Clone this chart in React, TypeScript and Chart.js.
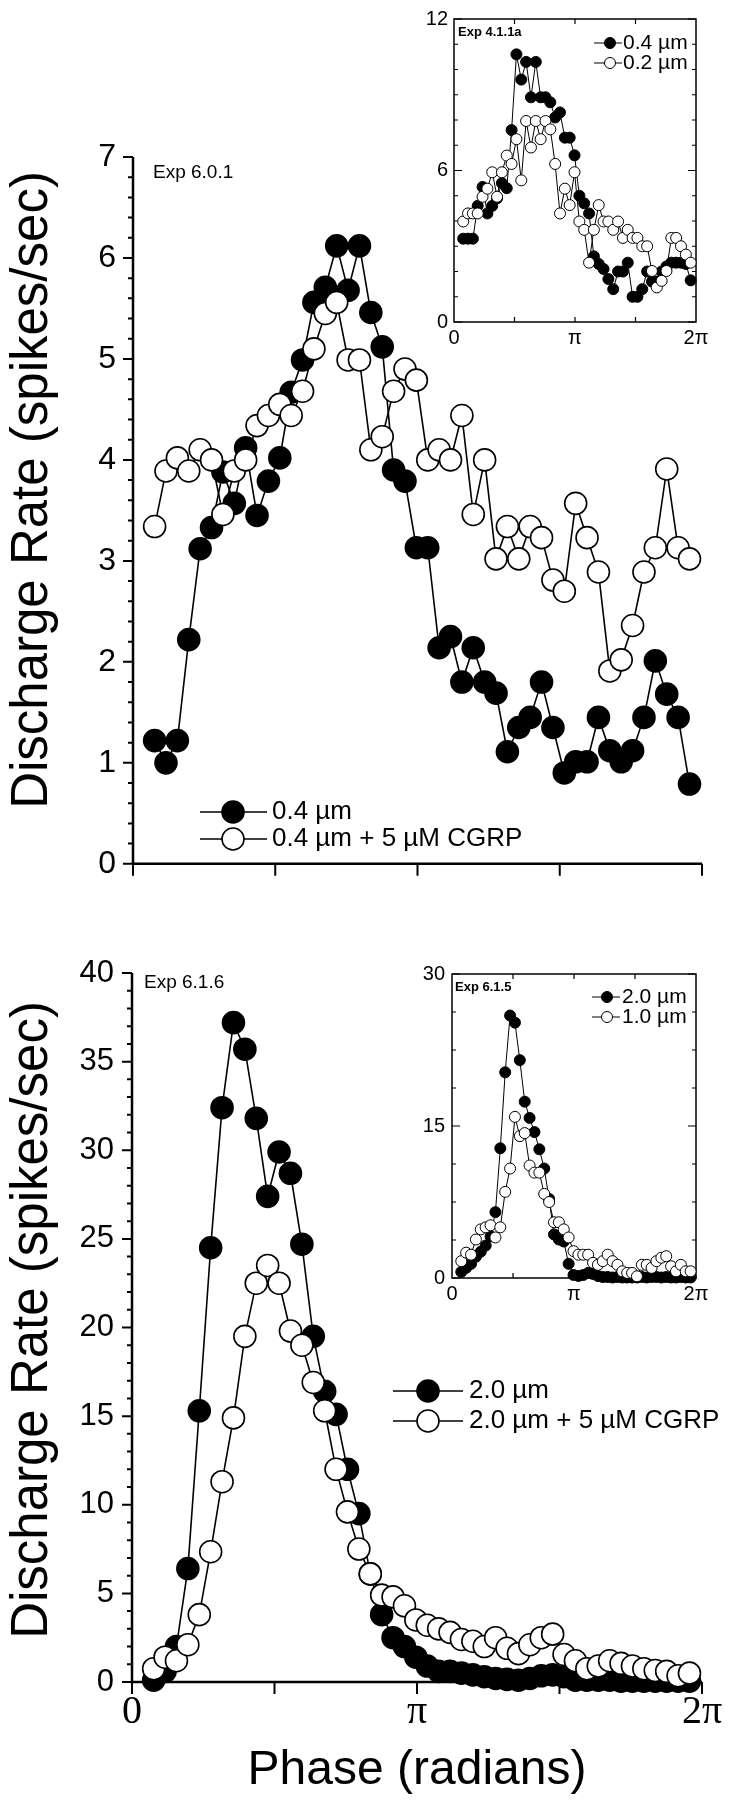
import React, { useEffect, useRef } from "react";
import { Chart, registerables } from "chart.js";

Chart.register(...registerables);

const SANS = "'Liberation Sans', Arial, Helvetica, sans-serif";
const SERIF = "'Liberation Serif', 'Times New Roman', serif";

// Phase of each bin centre, in units of π (0 .. 2π)
const PHASE_PI = [
  0.076, 0.116, 0.156, 0.196, 0.236, 0.276, 0.316, 0.356, 0.396, 0.436, 0.476, 0.516,
  0.556, 0.596, 0.636, 0.676, 0.716, 0.756, 0.796, 0.836, 0.876, 0.916, 0.956, 0.996,
  1.036, 1.076, 1.116, 1.156, 1.196, 1.236, 1.276, 1.316, 1.356, 1.396, 1.436, 1.476,
  1.516, 1.556, 1.596, 1.636, 1.676, 1.716, 1.756, 1.796, 1.836, 1.876, 1.916, 1.956,
];

const PI_TICK_LABELS: Record<string, string> = { "0": "0", "1": "π", "2": "2π" };

const Y_TITLE = "Discharge Rate (spikes/sec)";
const X_TITLE = "Phase (radians)";

// ---- Panel A (top): Exp 6.0.1 ----
const TOP_LABELS = ["0.4 µm", "0.4 µm + 5 µM CGRP"];
const TOP_CTRL = [
  1.22, 1.0, 1.22, 2.22, 3.12, 3.33, 3.88, 3.57, 4.12, 3.45, 3.79, 4.02,
  4.67, 4.99, 5.56, 5.71, 6.12, 5.68, 6.12, 5.46, 5.12, 3.9, 3.79, 3.13,
  3.13, 2.14, 2.25, 1.8, 2.14, 1.8, 1.69, 1.11, 1.35, 1.45, 1.8, 1.35,
  0.9, 1.01, 1.01, 1.45, 1.12, 1.01, 1.12, 1.45, 2.01, 1.68, 1.45, 0.79,
];
const TOP_CGRP = [
  3.34, 3.89, 4.02, 3.89, 4.1, 4.0, 3.46, 3.89, 4.0, 4.34, 4.44, 4.55,
  4.44, 4.68, 5.1, 5.45, 5.56, 4.99, 4.99, 4.1, 4.23, 4.68, 4.9, 4.79,
  4.0, 4.1, 4.0, 4.44, 3.46, 4.0, 3.02, 3.34, 3.02, 3.34, 3.23, 2.81,
  2.7, 3.57, 3.23, 2.89, 1.91, 2.02, 2.36, 2.89, 3.13, 3.91, 3.13, 3.02,
];

// ---- Inset A: Exp 4.1.1a ----
const TOP_INSET_LABELS = ["0.4 µm", "0.2 µm"];
const TOP_INSET_04 = [
  3.3, 3.3, 3.3, 4.6, 5.35, 4.3, 4.6, 4.9, 5.5, 5.3, 7.6, 10.6,
  9.6, 10.3, 8.9, 10.3, 8.9, 8.9, 8.7, 8.1, 8.3, 7.3, 7.3, 6.6,
  5.0, 4.7, 4.3, 2.6, 2.3, 2.1, 1.7, 1.3, 2.0, 2.0, 2.35, 1.0,
  1.0, 1.3, 2.0, 1.6, 1.6, 2.0, 2.2, 2.35, 2.35, 2.35, 2.3, 1.65,
];
const TOP_INSET_02 = [
  3.98, 4.3, 4.3, 4.3, 4.96, 5.28, 5.93, 4.96, 5.93, 6.59, 6.26, 7.24,
  5.61, 7.96, 6.91, 7.96, 7.24, 7.96, 7.63, 6.26, 4.3, 5.28, 4.63, 5.93,
  3.98, 3.65, 2.35, 3.65, 4.63, 3.98, 3.98, 3.65, 3.98, 3.33, 3.65, 3.33,
  3.33, 3.0, 3.0, 2.02, 1.37, 1.63, 2.02, 3.33, 3.33, 3.0, 2.67, 2.35,
];

// ---- Panel B (bottom): Exp 6.1.6 ----
const BOT_LABELS = ["2.0 µm", "2.0 µm + 5 µM CGRP"];
const BOT_CTRL = [
  0.1, 0.6, 2.0, 6.4, 15.3, 24.5, 32.4, 37.2, 35.7, 31.8, 27.4, 29.9,
  28.7, 24.7, 19.5, 16.4, 15.1, 12.0, 9.5, 6.1, 3.8, 2.5, 2.0, 1.4,
  0.9, 0.6, 0.6, 0.5, 0.4, 0.3, 0.2, 0.15, 0.1, 0.2, 0.35, 0.4,
  0.3, 0.1, 0.1, 0.1, 0.1, 0.05, 0.05, 0.05, 0.05, 0.05, 0.05, 0.05,
];
const BOT_CGRP = [
  0.75, 1.4, 1.2, 2.1, 3.8, 7.35, 11.3, 14.9, 19.5, 22.5, 23.5, 22.5,
  19.8, 19.0, 16.9, 15.3, 12.0, 9.6, 7.5, 6.1, 4.9, 4.8, 4.3, 3.5,
  3.2, 3.0, 2.8, 2.4, 2.3, 2.0, 2.5, 1.9, 1.6, 2.1, 2.5, 2.7,
  1.55, 1.2, 0.75, 0.9, 1.2, 1.05, 0.9, 0.75, 0.65, 0.6, 0.35, 0.5,
];

// ---- Inset B: Exp 6.1.5 ----
const BOT_INSET_LABELS = ["2.0 µm", "1.0 µm"];
const BOT_INSET_20 = [
  0.6, 1.0, 1.4, 2.1, 2.6, 3.2, 4.1, 6.5, 12.8, 20.3, 25.9, 25.2,
  21.5, 17.4, 15.8, 14.4, 12.7, 10.8, 7.8, 4.3, 3.8, 3.6, 1.4, 0.3,
  0.2, 0.3, 0.5, 0.4, 0.2, 0.1, 0.1, 0.05, 0.1, 0.05, 0.05, 0.05,
  0.05, 0.1, 0.05, 0.1, 0.1, 0.05, 0.1, 0.05, 0.05, 0.1, 0.05, 0.05,
];
const BOT_INSET_10 = [
  1.66, 2.5, 2.3, 3.8, 4.8, 5.0, 5.2, 4.0, 5.0, 8.5, 10.8, 15.9,
  14.0, 14.3, 11.1, 10.4, 10.4, 8.3, 7.5, 5.5, 5.5, 4.8, 4.0, 2.65,
  2.3, 2.3, 2.3, 1.5, 1.3, 1.66, 2.3, 1.66, 1.3, 0.66, 0.5, 0.5,
  0.17, 1.3, 1.3, 1.0, 1.66, 2.0, 2.15, 1.16, 0.66, 1.3, 0.66, 0.66,
];

type TextItem = {
  text: string; x: number; y: number; font: string;
  align?: CanvasTextAlign; rotate?: number;
};
type LegendItem = {
  x1: number; x2: number; cx: number; cy: number; r: number;
  filled: boolean; text: string; tx: number; font: string; lw: number; pb: number;
};
type Series = { label: string; values: number[]; filled: boolean };
type Spec = {
  canvasTop: number;
  area: { left: number; right: number; top: number; bottom: number };
  yMax: number; yLabelStep: number; yFont: string; yFontSize: number; yPad: number;
  xLabels: boolean; xFont: string; xFontSize: number; xPad: number;
  xTitle: boolean;
  box: boolean; inward: boolean; axisWidth: number; tickWidth: number;
  yStep: number; yMajor: number; yMajorLen: number; yMinorLen: number;
  xTicks: number[]; xTickLen: number;
  series: Series[];
  pointRadius: number; pointBorder: number; lineWidth: number;
  texts: TextItem[];
  legend: LegendItem[];
};

const W = 736;
const H = 900;

function makeDecor(s: Spec) {
  return {
    id: "decor",
    beforeDatasetsDraw(chart: any) {
      const { ctx, chartArea: a } = chart;
      const xs = chart.scales.x;
      const ys = chart.scales.y;
      ctx.save();
      ctx.strokeStyle = "#000";
      ctx.lineCap = "butt";
      ctx.lineWidth = s.axisWidth;
      ctx.beginPath();
      if (s.box) {
        ctx.rect(a.left, a.top, a.right - a.left, a.bottom - a.top);
      } else {
        ctx.moveTo(a.left, a.top);
        ctx.lineTo(a.left, a.bottom);
        ctx.lineTo(a.right, a.bottom);
      }
      ctx.stroke();
      ctx.lineWidth = s.tickWidth;
      ctx.beginPath();
      const n = Math.round((ys.max - ys.min) / s.yStep);
      const ratio = Math.round(s.yMajor / s.yStep);
      const dirY = s.inward ? 1 : -1;
      for (let i = 0; i <= n; i++) {
        const py = ys.getPixelForValue(ys.min + i * s.yStep);
        const len = i % ratio === 0 ? s.yMajorLen : s.yMinorLen;
        ctx.moveTo(a.left, py);
        ctx.lineTo(a.left + dirY * len, py);
        if (s.box) {
          ctx.moveTo(a.right, py);
          ctx.lineTo(a.right - len, py);
        }
      }
      const dirX = s.inward ? -1 : 1;
      for (const v of s.xTicks) {
        const px = xs.getPixelForValue(v);
        ctx.moveTo(px, a.bottom);
        ctx.lineTo(px, a.bottom + dirX * s.xTickLen);
        if (s.box) {
          ctx.moveTo(px, a.top);
          ctx.lineTo(px, a.top + s.xTickLen);
        }
      }
      ctx.stroke();
      ctx.restore();
    },
    afterDraw(chart: any) {
      const { ctx } = chart;
      ctx.save();
      ctx.fillStyle = "#000";
      ctx.strokeStyle = "#000";
      for (const t of s.texts) {
        ctx.save();
        ctx.translate(t.x, t.y);
        ctx.rotate(t.rotate || 0);
        ctx.font = t.font;
        ctx.textAlign = t.align || "left";
        ctx.textBaseline = "middle";
        ctx.fillText(t.text, 0, 0);
        ctx.restore();
      }
      for (const L of s.legend) {
        ctx.lineWidth = L.lw;
        ctx.beginPath();
        ctx.moveTo(L.x1, L.cy);
        ctx.lineTo(L.x2, L.cy);
        ctx.stroke();
        ctx.beginPath();
        ctx.arc(L.cx, L.cy, L.r, 0, Math.PI * 2);
        ctx.fillStyle = L.filled ? "#000" : "#fff";
        ctx.fill();
        ctx.lineWidth = L.pb;
        ctx.stroke();
        ctx.fillStyle = "#000";
        ctx.font = L.font;
        ctx.textAlign = "left";
        ctx.textBaseline = "middle";
        ctx.fillText(L.text, L.tx, L.cy);
      }
      ctx.restore();
    },
  };
}

function buildConfig(s: Spec): any {
  return {
    type: "line",
    data: {
      datasets: s.series.map((ser) => ({
        label: ser.label,
        data: PHASE_PI.map((x, i) => ({ x, y: ser.values[i] })),
        borderColor: "#000",
        borderWidth: s.lineWidth,
        pointRadius: s.pointRadius,
        pointBorderWidth: s.pointBorder,
        pointBackgroundColor: ser.filled ? "#000" : "#fff",
        pointBorderColor: "#000",
        pointStyle: "circle",
        tension: 0,
        fill: false,
        clip: false,
      })),
    },
    options: {
      responsive: false,
      maintainAspectRatio: false,
      animation: false,
      devicePixelRatio: 1,
      events: [],
      layout: {
        padding: { left: 0, top: s.area.top, right: W - s.area.right, bottom: 0 },
      },
      plugins: {
        legend: { display: false },
        tooltip: { enabled: false },
        title: { display: false },
      },
      scales: {
        x: {
          type: "linear",
          min: 0,
          max: 2,
          afterFit: (sc: any) => {
            sc.height = H - s.area.bottom;
          },
          grid: { display: false, drawTicks: false },
          border: { display: false },
          ticks: {
            display: s.xLabels,
            stepSize: 1,
            autoSkip: false,
            maxRotation: 0,
            color: "#000",
            padding: s.xPad,
            font: { family: s.xFont, size: s.xFontSize },
            callback: (v: number) => PI_TICK_LABELS[String(v)] ?? "",
          },
          title: {
            display: s.xTitle,
            text: X_TITLE,
            color: "#000",
            padding: { top: 0, bottom: 0 },
            font: { family: SANS, size: 48 },
          },
        },
        y: {
          type: "linear",
          min: 0,
          max: s.yMax,
          afterFit: (sc: any) => {
            sc.width = s.area.left;
          },
          grid: { display: false, drawTicks: false },
          border: { display: false },
          ticks: {
            stepSize: s.yLabelStep,
            color: "#000",
            padding: s.yPad,
            font: { family: s.yFont, size: s.yFontSize },
          },
        },
      },
    },
    plugins: [makeDecor(s)],
  };
}

function PhaseChart({ spec }: { spec: Spec }) {
  const ref = useRef<HTMLCanvasElement>(null);
  useEffect(() => {
    const chart = new Chart(ref.current as HTMLCanvasElement, buildConfig(spec));
    return () => chart.destroy();
  }, [spec]);
  return (
    <canvas
      ref={ref}
      width={W}
      height={H}
      style={{ position: "absolute", left: 0, top: spec.canvasTop, width: W, height: H }}
    />
  );
}

const MAIN_TOP: Spec = {
  canvasTop: 0,
  area: { left: 133, right: 702, top: 157, bottom: 869 },
  yMax: 7, yLabelStep: 1, yFont: SANS, yFontSize: 32, yPad: 17,
  xLabels: false, xFont: SANS, xFontSize: 12, xPad: 0, xTitle: false,
  box: false, inward: false, axisWidth: 2.5, tickWidth: 2,
  yStep: 0.2, yMajor: 1, yMajorLen: 10, yMinorLen: 5,
  xTicks: [0, 0.5, 1, 1.5, 2], xTickLen: 12,
  series: [
    { label: TOP_LABELS[1], values: TOP_CGRP, filled: false },
    { label: TOP_LABELS[0], values: TOP_CTRL, filled: true },
  ],
  pointRadius: 11, pointBorder: 1.6, lineWidth: 1.6,
  texts: [
    { text: Y_TITLE, x: 33, y: 490, font: `51px ${SANS}`, align: "center", rotate: -Math.PI / 2 },
    { text: "Exp 6.0.1", x: 153, y: 173, font: `19px ${SANS}` },
  ],
  legend: [
    { x1: 200, x2: 267, cx: 233, cy: 812, r: 11, filled: true, text: TOP_LABELS[0], tx: 272, font: `26px ${SANS}`, lw: 1.5, pb: 1.6 },
    { x1: 200, x2: 267, cx: 233, cy: 839, r: 11, filled: false, text: TOP_LABELS[1], tx: 272, font: `26px ${SANS}`, lw: 1.5, pb: 1.6 },
  ],
};

const INSET_TOP: Spec = {
  canvasTop: 0,
  area: { left: 454, right: 696, top: 19, bottom: 322 },
  yMax: 12, yLabelStep: 6, yFont: SANS, yFontSize: 20, yPad: 6,
  xLabels: true, xFont: SANS, xFontSize: 20, xPad: 4, xTitle: false,
  box: true, inward: true, axisWidth: 1.5, tickWidth: 1.2,
  yStep: 1, yMajor: 6, yMajorLen: 8, yMinorLen: 4,
  xTicks: [0.5, 1, 1.5], xTickLen: 5,
  series: [
    { label: TOP_INSET_LABELS[1], values: TOP_INSET_02, filled: false },
    { label: TOP_INSET_LABELS[0], values: TOP_INSET_04, filled: true },
  ],
  pointRadius: 5.5, pointBorder: 1, lineWidth: 1,
  texts: [{ text: "Exp 4.1.1a", x: 458, y: 32, font: `bold 13px ${SANS}` }],
  legend: [
    { x1: 594, x2: 622, cx: 610, cy: 43, r: 5.5, filled: true, text: TOP_INSET_LABELS[0], tx: 623, font: `21px ${SANS}`, lw: 1, pb: 1 },
    { x1: 594, x2: 622, cx: 610, cy: 63, r: 5.5, filled: false, text: TOP_INSET_LABELS[1], tx: 623, font: `21px ${SANS}`, lw: 1, pb: 1 },
  ],
};

const MAIN_BOT: Spec = {
  canvasTop: 900,
  area: { left: 132, right: 702, top: 73, bottom: 782 },
  yMax: 40, yLabelStep: 5, yFont: SANS, yFontSize: 31, yPad: 18,
  xLabels: true, xFont: SERIF, xFontSize: 40, xPad: 6, xTitle: true,
  box: false, inward: false, axisWidth: 2.5, tickWidth: 2,
  yStep: 1, yMajor: 5, yMajorLen: 10, yMinorLen: 5,
  xTicks: [0, 0.5, 1, 1.5, 2], xTickLen: 12,
  series: [
    { label: BOT_LABELS[1], values: BOT_CGRP, filled: false },
    { label: BOT_LABELS[0], values: BOT_CTRL, filled: true },
  ],
  pointRadius: 11, pointBorder: 1.6, lineWidth: 1.6,
  texts: [
    { text: Y_TITLE, x: 33, y: 420, font: `51px ${SANS}`, align: "center", rotate: -Math.PI / 2 },
    { text: "Exp 6.1.6", x: 144, y: 83, font: `19px ${SANS}` },
  ],
  legend: [
    { x1: 393, x2: 463, cx: 428, cy: 491, r: 11, filled: true, text: BOT_LABELS[0], tx: 469, font: `26px ${SANS}`, lw: 1.5, pb: 1.6 },
    { x1: 393, x2: 463, cx: 428, cy: 521, r: 11, filled: false, text: BOT_LABELS[1], tx: 469, font: `26px ${SANS}`, lw: 1.5, pb: 1.6 },
  ],
};

const INSET_BOT: Spec = {
  canvasTop: 900,
  area: { left: 452, right: 696, top: 74, bottom: 378 },
  yMax: 30, yLabelStep: 15, yFont: SANS, yFontSize: 20, yPad: 7,
  xLabels: true, xFont: SANS, xFontSize: 20, xPad: 4, xTitle: false,
  box: true, inward: true, axisWidth: 1.5, tickWidth: 1.2,
  yStep: 3.75, yMajor: 15, yMajorLen: 8, yMinorLen: 4,
  xTicks: [0.5, 1, 1.5], xTickLen: 5,
  series: [
    { label: BOT_INSET_LABELS[1], values: BOT_INSET_10, filled: false },
    { label: BOT_INSET_LABELS[0], values: BOT_INSET_20, filled: true },
  ],
  pointRadius: 5.5, pointBorder: 1, lineWidth: 1,
  texts: [{ text: "Exp 6.1.5", x: 455, y: 87, font: `bold 13px ${SANS}` }],
  legend: [
    { x1: 592, x2: 620, cx: 607, cy: 97, r: 5.5, filled: true, text: BOT_INSET_LABELS[0], tx: 622, font: `21px ${SANS}`, lw: 1, pb: 1 },
    { x1: 592, x2: 620, cx: 607, cy: 117, r: 5.5, filled: false, text: BOT_INSET_LABELS[1], tx: 622, font: `21px ${SANS}`, lw: 1, pb: 1 },
  ],
};

export default function App() {
  return (
    <div
      style={{
        position: "absolute",
        left: 0,
        top: 0,
        width: W,
        height: 1800,
        background: "#fff",
        overflow: "hidden",
      }}
    >
      <PhaseChart spec={MAIN_TOP} />
      <PhaseChart spec={INSET_TOP} />
      <PhaseChart spec={MAIN_BOT} />
      <PhaseChart spec={INSET_BOT} />
    </div>
  );
}
